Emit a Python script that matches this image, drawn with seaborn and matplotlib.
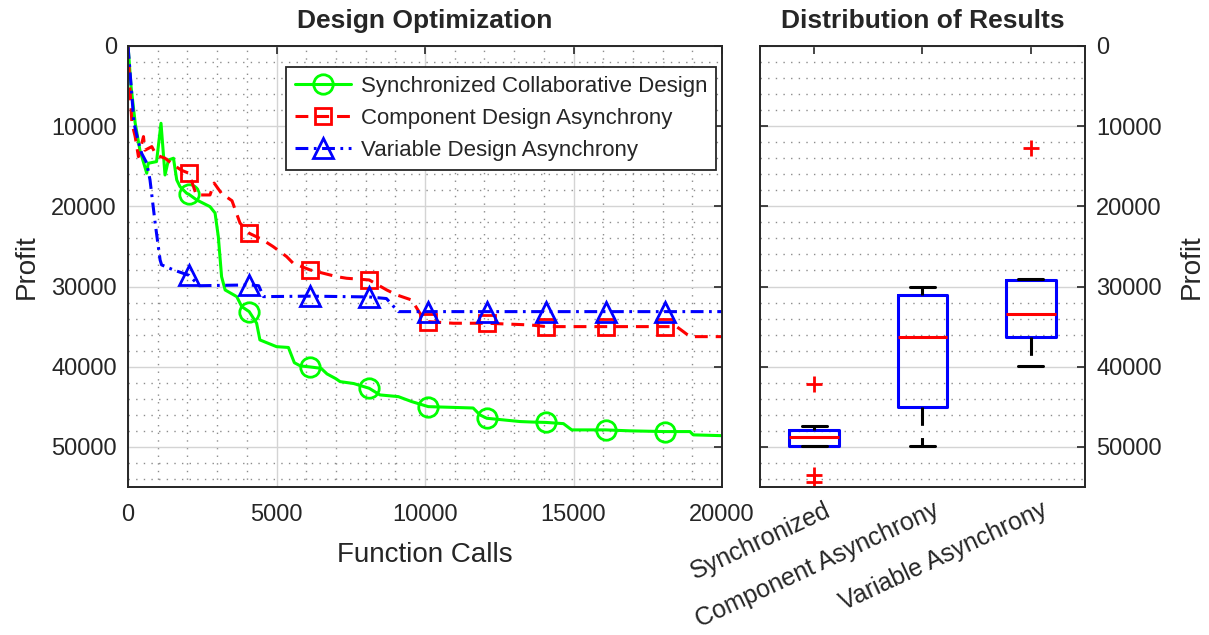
import numpy as np
import pandas as pd
import matplotlib
matplotlib.use('Agg')
import matplotlib.pyplot as plt
import matplotlib.transforms as mtransforms
from matplotlib.lines import Line2D
from matplotlib.ticker import MultipleLocator
import seaborn as sns

# ============================================================
# DATA
# ============================================================
marker_x = [2050, 4080, 6130, 8120, 10110, 12080, 14080, 16080, 18080]

sync_x = [0, 100, 240, 400, 630, 680, 960, 1110, 1245, 1360, 1530, 1640, 1750, 1975,
          2050, 2310, 2760, 2930, 3040, 3150, 3270, 3660, 3830, 4080, 4330, 4440,
          5000, 5400, 5600, 5800, 6130, 6500, 6700, 7000, 7140, 7600, 8120, 8485,
          9100, 9550, 10110, 11620, 11850, 12080, 13200, 13600, 14080, 14660, 14940,
          16080, 16900, 18080, 18920, 19030, 20000]
sync_y = [0, 5000, 9600, 13000, 15870, 14630, 14420, 9640, 16090, 14220, 14000, 16710, 17540, 18370,
          18500, 19200, 20040, 20830, 23780, 28770, 30430, 31260, 32510, 33130, 34580, 36660,
          37500, 37600, 39500, 39900, 40030, 40200, 40900, 41500, 41860, 42100, 42690, 43520,
          43730, 44350, 44980, 45150, 46010, 46430, 46840, 46900, 46950, 47100, 47880,
          47880, 48000, 48090, 48090, 48500, 48600]

comp_x = [0, 60, 130, 240, 350, 520, 570, 800, 950, 1245, 1530, 1800, 2050, 2300, 2760,
          2900, 3150, 3500, 3770, 4080, 4500, 4890, 5340, 5560, 6130, 7030, 7360, 8120,
          8710, 9050, 9550, 9830, 10110, 10950, 12080, 13535, 14080, 16080, 18080, 18470,
          18700, 18920, 20000]
comp_y = [0, 5000, 9600, 11300, 13800, 11300, 13000, 12550, 13600, 14000, 14840, 15500, 15870, 18580, 18580,
          17100, 18400, 19300, 22080, 23360, 24100, 25030, 26270, 27100, 27930, 28770, 28970, 29180,
          30430, 31050, 31680, 33340, 34380, 34580, 34580, 34790, 35000, 35000, 35000, 35000,
          35630, 36250, 36250]

var_x = [0, 200, 350, 460, 630, 740, 910, 1080, 1130, 1530, 2050, 2400, 4080, 4400, 4560,
         6130, 8120, 8700, 9100, 10110, 12080, 14080, 16080, 18080, 20000]
var_y = [0, 9600, 12000, 13400, 14600, 16710, 22000, 26690, 27300, 27930, 28600, 29900, 29800, 29900, 31260,
         31200, 31300, 31500, 33130, 33130, 33130, 33130, 33130, 33130, 33130]

series_names = ["Synchronized Collaborative Design", "Component Design Asynchrony",
                "Variable Design Asynchrony"]

box_names = ["Synchronized", "Component Asynchrony", "Variable Asynchrony"]
sync_results = [42180, 47380, 47880, 48300, 48710, 49300, 49880, 53490, 54320]
comp_results = [30010, 31050, 36330, 45060, 49880]
var_results = [12760, 29010, 29180, 31000, 33420, 35000, 36330, 38000, 39900]

# ============================================================
# STYLE
# ============================================================
sns.set_style("white")
plt.rcParams['font.family'] = ['Liberation Sans', 'DejaVu Sans']
plt.rcParams['text.color'] = '#262626'
plt.rcParams['axes.labelcolor'] = '#262626'
plt.rcParams['xtick.color'] = '#262626'
plt.rcParams['ytick.color'] = '#262626'

fig = plt.figure(figsize=(12.09, 6.35), dpi=100)
ax1 = fig.add_axes([0.1059, 0.2331, 0.4913, 0.6945])
ax2 = fig.add_axes([0.6286, 0.2331, 0.2688, 0.6945])

LW = 2.2
MAJOR_GRID = dict(color="#d4d4d4", lw=1.0, ls="-")
MINOR_GRID = dict(color="#8c8c8c", lw=1.0, ls=(0, (1, 4.5)))

# ============================================================
# 1. Line plot
# ============================================================
styles = [
    dict(color="#00ff00", marker="o", ms=14, linestyle="-"),
    dict(color="#ff0000", marker="s", ms=12, linestyle=(0, (4.2, 2.6))),
    dict(color="#0000ff", marker="^", ms=15, linestyle=(0, (4.2, 1.8, 0.9, 1.8))),
]
handles = []
for xs, ys, name, st in zip([sync_x, comp_x, var_x], [sync_y, comp_y, var_y],
                            series_names, styles):
    idx = list(np.where(np.isin(xs, marker_x))[0])
    sns.lineplot(x=xs, y=ys, ax=ax1, estimator=None, color=st["color"], lw=LW,
                 linestyle=st["linestyle"], marker=st["marker"], ms=st["ms"],
                 mfc="none", mec=st["color"], mew=2, markevery=idx)
    handles.append(Line2D([], [], color=st["color"], lw=LW, linestyle=st["linestyle"],
                          marker=st["marker"], ms=st["ms"], mfc="none",
                          mec=st["color"], mew=2, label=name))

ax1.set_xlim(0, 20000)
ax1.set_ylim(55000, 0)
ax1.xaxis.set_major_locator(MultipleLocator(5000))
ax1.xaxis.set_minor_locator(MultipleLocator(1000))
ax1.yaxis.set_major_locator(MultipleLocator(10000))
ax1.yaxis.set_minor_locator(MultipleLocator(2000))
ax1.grid(which="major", **MAJOR_GRID)
ax1.grid(which="minor", **MINOR_GRID)
ax1.set_axisbelow(True)
ax1.set_xlabel("Function Calls", fontsize=20, labelpad=12)
ax1.set_ylabel("Profit", fontsize=20, labelpad=8)
ax1.set_title("Design Optimization", fontsize=19, fontweight="bold", pad=13)
ax1.tick_params(which="major", direction="in", length=6, width=1.2, top=True, right=True,
                labelsize=17, pad=8)
ax1.tick_params(axis="x", which="major", pad=12)
ax1.tick_params(which="minor", length=0)
ax1.legend(handles=handles, loc="upper right", bbox_to_anchor=(0.99, 0.952),
           borderaxespad=0, frameon=True, fancybox=False, framealpha=1,
           edgecolor="#262626", fontsize=16, handlelength=2.5, handletextpad=0.45,
           labelspacing=0.5, borderpad=0.4)
ax1.get_legend().get_frame().set_linewidth(1.3)

# ============================================================
# 2. Box plot
# ============================================================
df = pd.DataFrame({
    "method": [box_names[0]] * len(sync_results) + [box_names[1]] * len(comp_results)
              + [box_names[2]] * len(var_results),
    "profit": sync_results + comp_results + var_results,
})
sns.boxplot(data=df, x="method", y="profit", order=box_names, ax=ax2, width=0.46,
            fill=False, linewidth=LW,
            boxprops=dict(color="#0000ff", linewidth=LW),
            medianprops=dict(color="#ff0000", linewidth=LW),
            whiskerprops=dict(color="black", linewidth=LW, linestyle=(0, (6, 4))),
            capprops=dict(color="black", linewidth=LW),
            flierprops=dict(marker="+", markeredgecolor="#ff0000", markersize=12,
                            markeredgewidth=2))

ax2.set_xlim(-0.5, 2.5)
ax2.set_ylim(55000, 0)
ax2.yaxis.set_major_locator(MultipleLocator(10000))
ax2.yaxis.set_minor_locator(MultipleLocator(2000))
ax2.grid(which="major", axis="y", **MAJOR_GRID)
ax2.grid(which="minor", axis="y", **MINOR_GRID)
ax2.set_axisbelow(True)
ax2.yaxis.tick_right()
ax2.yaxis.set_label_position("right")
ax2.set_ylabel("Profit", fontsize=20, labelpad=12)
ax2.set_xlabel("")
ax2.set_title("Distribution of Results", fontsize=19, fontweight="bold", pad=13)
ax2.tick_params(which="major", direction="in", length=6, width=1.2, top=True, left=True,
                right=True, labelsize=17, pad=8)
ax2.tick_params(which="minor", length=0)
shift = mtransforms.ScaledTranslation(0.10, 0, fig.dpi_scale_trans)
for lab in ax2.get_xticklabels():
    lab.set_fontsize(18)
    lab.set_rotation(25)
    lab.set_ha("right")
    lab.set_va("top")
    lab.set_rotation_mode("anchor")
    lab.set_transform(lab.get_transform() + shift)

for ax in (ax1, ax2):
    for sp in ax.spines.values():
        sp.set_visible(True)
        sp.set_color("#262626")
        sp.set_linewidth(1.4)

fig.savefig("out.png", dpi=100)
